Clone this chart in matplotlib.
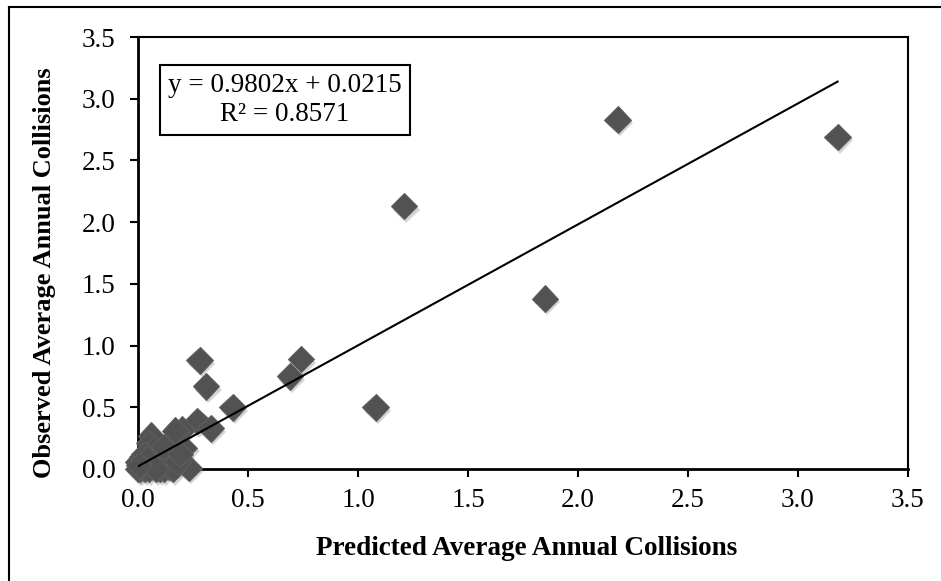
import matplotlib
matplotlib.use("Agg")
import matplotlib.pyplot as plt
import matplotlib.patheffects as pe
from matplotlib.lines import Line2D
import numpy as np

plt.rcParams['font.family'] = ['Liberation Serif', 'DejaVu Serif']

# Data
predicted = [3.18, 2.18, 1.85, 1.21, 1.08, 0.74, 0.69, 0.43, 0.28, 0.31,
             0.27, 0.33, 0.20, 0.17, 0.06, 0.05, 0.21, 0.23, 0.10, 0.00,
             0.07, 0.15, 0.01, 0.02, 0.03, 0.04, 0.05, 0.06, 0.08, 0.09,
             0.11, 0.12, 0.13, 0.14, 0.16, 0.02, 0.03, 0.10, 0.12, 0.18,
             0.19, 0.00, 0.01, 0.04, 0.08, 0.005]
observed = [2.69, 2.83, 1.38, 2.13, 0.50, 0.89, 0.75, 0.50, 0.88, 0.67,
            0.39, 0.33, 0.32, 0.31, 0.27, 0.21, 0.17, 0.01, 0.00, 0.06,
            0.15, 0.10, 0.00, 0.02, 0.00, 0.05, 0.00, 0.03, 0.02, 0.06,
            0.04, 0.00, 0.08, 0.02, 0.00, 0.10, 0.12, 0.12, 0.18, 0.06,
            0.12, 0.00, 0.03, 0.09, 0.00, 0.03]
slope = 0.9802
intercept = 0.0215
r2 = 0.8571
ticks = [0.0, 0.5, 1.0, 1.5, 2.0, 2.5, 3.0, 3.5]
tick_labels = ['0.0', '0.5', '1.0', '1.5', '2.0', '2.5', '3.0', '3.5']

FS = 19.5
W, H = 941, 581
fig = plt.figure(figsize=(W / 100, H / 100), dpi=100)
ax = fig.add_axes([138 / W, 1 - 469 / H, 770 / W, 432 / H])

ax.plot(predicted, observed, linestyle='none', marker='D', markersize=13.5,
        markerfacecolor='#525252', markeredgecolor='#5e5e5e', markeredgewidth=0.8,
        clip_on=False, zorder=3,
        path_effects=[pe.SimplePatchShadow(offset=(1.5, -2.5), shadow_rgbFace='#888888', alpha=0.35),
                      pe.Normal()])

x_arr = np.array(predicted)
xl = np.array([x_arr.min(), x_arr.max()])
ax.plot(xl, slope * xl + intercept, color='black', linewidth=1.5, zorder=4)

ax.set_xlim(0, 3.5)
ax.set_ylim(0, 3.5)
ax.set_xticks(ticks)
ax.set_xticklabels(tick_labels)
ax.set_yticks(ticks)
ax.set_yticklabels(tick_labels)
ax.tick_params(axis='both', direction='out', length=6, width=1.5, labelsize=FS, colors='black')
ax.tick_params(axis='x', pad=8)
ax.tick_params(axis='y', pad=10)
ax.tick_params(top=False, right=False)
for s in ['left', 'bottom']:
    ax.spines[s].set_linewidth(2.0)
for s in ['top', 'right']:
    ax.spines[s].set_linewidth(1.5)

ax.set_xlabel('Predicted Average Annual Collisions', fontsize=FS, fontweight='bold')
ax.set_ylabel('Observed Average Annual Collisions', fontsize=19, fontweight='bold')
ax.xaxis.set_label_coords(0.505, -0.183)
ax.yaxis.set_label_coords(-0.121, 0.454)
ax.xaxis.label.set_va('center')
ax.yaxis.label.set_va('center')

ax.text(0.668, 2.99, f'y = {slope:.4f}x + {intercept:.4f}\nR\u00b2 = {r2:.4f}',
        fontsize=FS, ha='center', va='center', multialignment='center', linespacing=1.2,
        transform=ax.transData, zorder=5,
        bbox=dict(boxstyle='square,pad=0.3', facecolor='white', edgecolor='black', linewidth=1.5))

# outer frame
fig.add_artist(Line2D([9 / W, 9 / W], [0, 1 - 7 / H], transform=fig.transFigure, color='black', linewidth=1.5))
fig.add_artist(Line2D([9 / W, 1], [1 - 7 / H, 1 - 7 / H], transform=fig.transFigure, color='black', linewidth=1.5))

fig.savefig('out.png', dpi=100, facecolor='white')
